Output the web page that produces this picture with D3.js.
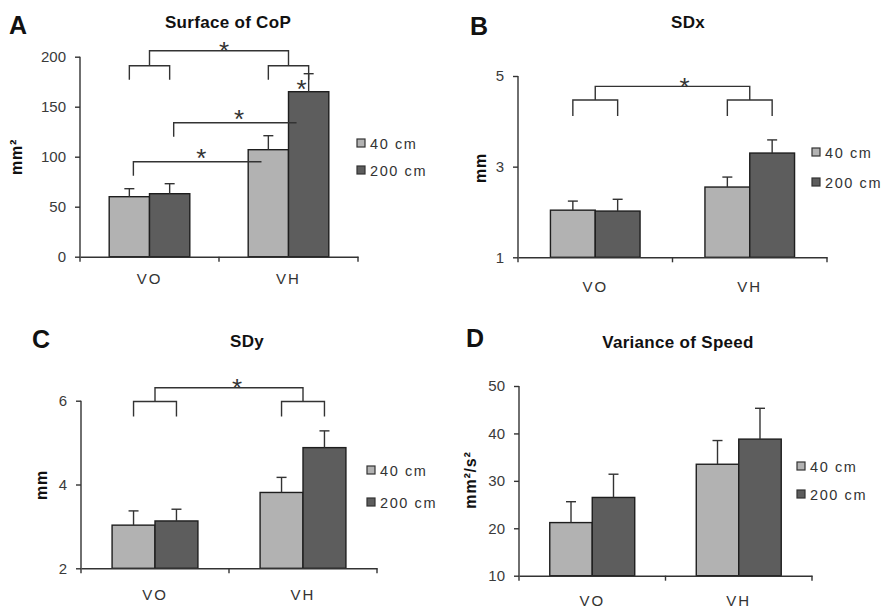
<!DOCTYPE html>
<html>
<head>
<meta charset="utf-8">
<script src="https://cdn.jsdelivr.net/npm/d3@7/dist/d3.min.js"></script>
<style>
  html, body { margin: 0; padding: 0; background: #fff; }
  svg { display: block; font-family: "Liberation Sans", Arial, sans-serif; }
</style>
</head>
<body>
<svg id="chart" width="885" height="610"></svg>
<script>
// Groups on the x axis and the two viewing distances
const groups = ["VO", "VH"];
const distances = ["40 cm", "200 cm"];

// A: surface of the centre-of-pressure path (mm²), mean and error per [group][distance]
const copMean = [[60, 63], [107, 165]];
const copErr = [[8, 10], [14, 18]];
const copTicks = [0, 50, 100, 150, 200];

// B: SD of CoP along x (mm)
const sdxMean = [[2.04, 2.02], [2.55, 3.30]];
const sdxErr = [[0.20, 0.26], [0.22, 0.29]];
const sdxTicks = [1, 3, 5];

// C: SD of CoP along y (mm)
const sdyMean = [[3.03, 3.13], [3.81, 4.88]];
const sdyErr = [[0.34, 0.28], [0.36, 0.40]];
const sdyTicks = [2, 4, 6];

// D: variance of speed (mm²/s²)
const speedMean = [[21.2, 26.5], [33.5, 38.8]];
const speedErr = [[4.4, 4.9], [5.0, 6.5]];
const speedTicks = [10, 20, 30, 40, 50];

// Group-effect bracket levels (data units): [main bar, sub-bracket bar, sub-bracket stem end]
const copGroupBracket = [206, 191, 177];
const sdxGroupBracket = [4.77, 4.47, 4.12];
const sdyGroupBracket = [6.31, 5.98, 5.62];

// Pairwise brackets in A: [from group, from distance, to group, to distance, level, stem end]
const copPairBrackets = [
  [0, 0, 1, 0, 95, 81],
  [0, 1, 1, 1, 134, 120]
];

const fills = ["#b2b2b2", "#5d5d5d"];
const ink = "#1e1e1e";
const lineCol = "#333";
const svg = d3.select("#chart");

const panels = [
  { letter: "A", title: "Surface of CoP", ylab: "mm²", mean: copMean, err: copErr, ticks: copTicks,
    x0: 80, x1: 358, yTop: 56.7, yBot: 256.7, letterPos: [9, 34], titlePos: [228, 28],
    ylabPos: [22, 157], xlabDy: 29, legend: [357, 139], legendStep: 27,
    group: copGroupBracket, pairs: copPairBrackets, starDx: 5 },
  { letter: "B", title: "SDx", ylab: "mm", mean: sdxMean, err: sdxErr, ticks: sdxTicks,
    x0: 518, x1: 827, yTop: 76, yBot: 257.3, letterPos: [470, 35], titlePos: [688, 28],
    ylabPos: [486, 168], xlabDy: 36, legend: [812, 148], legendStep: 30,
    group: sdxGroupBracket, pairs: [], starDx: 12 },
  { letter: "C", title: "SDy", ylab: "mm", mean: sdyMean, err: sdyErr, ticks: sdyTicks,
    x0: 81, x1: 377, yTop: 400.7, yBot: 568.3, letterPos: [32, 348], titlePos: [247, 347],
    ylabPos: [47, 485], xlabDy: 33, legend: [367, 466], legendStep: 32,
    group: sdyGroupBracket, pairs: [], starDx: 8 },
  { letter: "D", title: "Variance of Speed", ylab: "mm²/s²", mean: speedMean, err: speedErr, ticks: speedTicks,
    x0: 519, x1: 812, yTop: 386, yBot: 575.7, letterPos: [466, 347], titlePos: [678, 348],
    ylabPos: [476, 480], xlabDy: 32, legend: [797, 462], legendStep: 28,
    group: null, pairs: [], starDx: 0 }
];

panels.forEach(drawPanel);

function drawPanel(p) {
  const g = svg.append("g");
  const ticks = p.ticks;
  const x = d3.scaleBand().domain(groups).range([p.x0, p.x1]);
  const y = d3.scaleLinear().domain([ticks[0], ticks[ticks.length - 1]]).range([p.yBot, p.yTop]);
  const half = x.bandwidth() * 0.29;
  const xs = d3.scaleBand().domain(distances).range([-half, half]);
  const barX = (gi, di) => x(groups[gi]) + x.bandwidth() / 2 + xs(distances[di]);
  const barC = (gi, di) => barX(gi, di) + xs.bandwidth() / 2;

  // Panel letter and title
  g.append("text").attr("x", p.letterPos[0]).attr("y", p.letterPos[1])
    .attr("font-size", 25).attr("font-weight", "bold").attr("fill", "#111").text(p.letter);
  g.append("text").attr("x", p.titlePos[0]).attr("y", p.titlePos[1]).attr("text-anchor", "middle")
    .attr("font-size", 17).attr("font-weight", "bold").attr("fill", "#111")
    .attr("letter-spacing", 0.3).text(p.title);

  // Bars with upward error bars
  const cells = [];
  groups.forEach((gn, gi) => distances.forEach((dn, di) => cells.push({ gi, di, v: p.mean[gi][di], e: p.err[gi][di] })));

  g.selectAll("rect.bar").data(cells).join("rect")
    .attr("class", "bar")
    .attr("x", d => barX(d.gi, d.di))
    .attr("y", d => y(d.v))
    .attr("width", xs.bandwidth())
    .attr("height", d => y(ticks[0]) - y(d.v))
    .attr("fill", d => fills[d.di])
    .attr("stroke", ink).attr("stroke-width", 1.4);

  g.selectAll("line.err").data(cells).join("line")
    .attr("class", "err")
    .attr("x1", d => barC(d.gi, d.di)).attr("x2", d => barC(d.gi, d.di))
    .attr("y1", d => y(d.v)).attr("y2", d => y(d.v + d.e))
    .attr("stroke", lineCol).attr("stroke-width", 1.4);
  g.selectAll("line.cap").data(cells).join("line")
    .attr("class", "cap")
    .attr("x1", d => barC(d.gi, d.di) - 5).attr("x2", d => barC(d.gi, d.di) + 5)
    .attr("y1", d => y(d.v + d.e)).attr("y2", d => y(d.v + d.e))
    .attr("stroke", lineCol).attr("stroke-width", 1.4);

  // Y axis
  const ya = g.append("g").attr("transform", `translate(${p.x0},0)`)
    .call(d3.axisLeft(y).tickValues(ticks).tickFormat(d3.format("d"))
      .tickSize(5).tickSizeOuter(0).tickPadding(9));
  ya.select(".domain").attr("stroke", lineCol).attr("stroke-width", 1.4)
    .attr("d", `M0,${p.yTop}V${p.yBot + 5}`);
  ya.selectAll(".tick line").attr("stroke", lineCol).attr("stroke-width", 1.4);
  ya.selectAll(".tick text").attr("font-size", 15).attr("fill", "#3a3a3a")
    .attr("font-family", "Liberation Sans, Arial, sans-serif");

  // X axis: baseline, category boundary ticks and group labels
  const xa = g.append("g").attr("transform", `translate(0,${p.yBot})`)
    .call(d3.axisBottom(x).tickSize(0).tickPadding(p.xlabDy - 12));
  xa.select(".domain").attr("stroke", lineCol).attr("stroke-width", 1.4);
  xa.selectAll(".tick text").attr("font-size", 15).attr("fill", "#333").attr("letter-spacing", 2)
    .attr("font-family", "Liberation Sans, Arial, sans-serif");
  const bounds = groups.map(gn => x(gn)).concat([x(groups[groups.length - 1]) + x.bandwidth()]);
  xa.selectAll("line.bound").data(bounds.slice(1)).join("line")
    .attr("class", "bound")
    .attr("x1", d => d).attr("x2", d => d).attr("y1", 0).attr("y2", 5)
    .attr("stroke", lineCol).attr("stroke-width", 1.4);

  // Y axis title
  g.append("text")
    .attr("transform", `translate(${p.ylabPos[0]},${p.ylabPos[1]}) rotate(-90)`)
    .attr("text-anchor", "middle").attr("font-size", 16).attr("font-weight", "bold").attr("fill", "#111")
    .attr("letter-spacing", 0.8).text(p.ylab);

  // Legend
  const lg = g.append("g").attr("transform", `translate(${p.legend[0]},${p.legend[1]})`);
  distances.forEach((dn, di) => {
    lg.append("rect").attr("x", 0).attr("y", di * p.legendStep).attr("width", 8).attr("height", 8)
      .attr("fill", fills[di]).attr("stroke", "#333").attr("stroke-width", 1.2);
    lg.append("text").attr("x", 13).attr("y", di * p.legendStep + 9.5).attr("font-size", 14.5)
      .attr("fill", "#333").attr("letter-spacing", 1.6).text(dn);
  });

  const path = (d) => g.append("path").attr("d", d).attr("fill", "none")
    .attr("stroke", lineCol).attr("stroke-width", 1.4);
  // asterisk drawn so that its glyph centre sits at (sx, cy)
  const star = (sx, cy) => g.append("text").attr("x", sx).attr("y", cy + 15).attr("text-anchor", "middle")
    .attr("font-size", 26).attr("fill", "#333").text("*");

  // Group-effect bracket: VO (both distances) vs VH (both distances)
  if (p.group) {
    const [top, sub, stem] = p.group.map(y);
    const c0 = x(groups[0]) + x.bandwidth() / 2, c1 = x(groups[1]) + x.bandwidth() / 2;
    path(`M${c0},${sub}V${top}H${c1}V${sub}`);
    groups.forEach((gn, gi) => {
      path(`M${barC(gi, 0)},${stem}V${sub}H${barC(gi, 1)}V${stem}`);
    });
    star((c0 + c1) / 2 + p.starDx, top - 5.5);
  }

  // Pairwise brackets (A only)
  p.pairs.forEach(b => {
    const xa0 = barX(b[0], b[1]) + xs.bandwidth() * 0.6;
    const xb = barX(b[2], b[3]) + xs.bandwidth() * (b[3] === 0 ? 0.33 : 0.2);
    path(`M${xa0},${y(b[5])}V${y(b[4])}H${xb}`);
    star((xa0 + xb) / 2 + 4, y(b[4]) - 9.5);
  });
  if (p.letter === "A") {
    // VH: 200 cm differs from 40 cm
    star(barC(1, 1) - 7, y(p.mean[1][1] + p.err[1][1]) + 9);
  }
}
</script>
</body>
</html>
